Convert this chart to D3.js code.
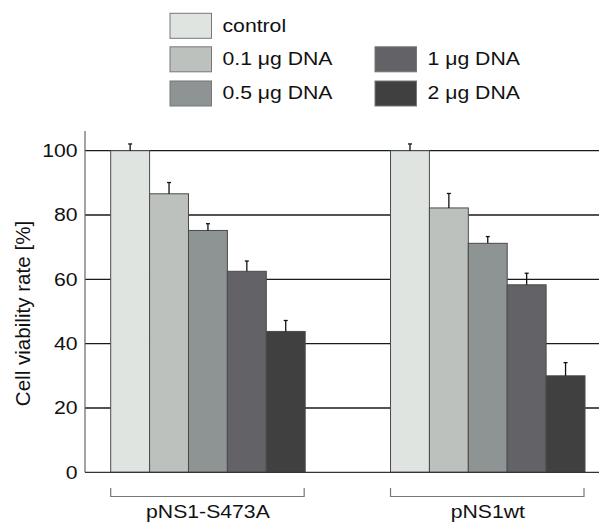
<!DOCTYPE html>
<html><head><meta charset="utf-8">
<script src="https://cdn.jsdelivr.net/npm/d3@7"></script>
<style>body{margin:0;background:#fff}svg{display:block;font-family:"Liberation Sans",Arial,sans-serif}</style>
</head><body>
<svg id="c" width="599" height="530"></svg>
<script>
const groups = ["pNS1-S473A", "pNS1wt"];
const series = ["control", "0.1 μg DNA", "0.5 μg DNA", "1 μg DNA", "2 μg DNA"];
const colors = ["#e0e4e1", "#bdc1be", "#8e9393", "#636267", "#404040"];
const valuesS473A = [100, 86.6, 75.2, 62.5, 43.8];
const errorsS473A = [2.1, 3.5, 2.1, 3.2, 3.4];
const valuesWt = [100, 82.2, 71.2, 58.3, 30.0];
const errorsWt = [2.1, 4.5, 2.1, 3.6, 4.1];
const yTicks = [0, 20, 40, 60, 80, 100];
const yLabel = "Cell viability rate [%]";

const values = [valuesS473A, valuesWt];
const errors = [errorsS473A, errorsWt];

const FS = 18.6, SX = 1.14;
const svg = d3.select("#c");
const axisX = 85, plotRight = 599;
const y = d3.scaleLinear().domain([0, 100]).range([472.3, 150.7]);
const x0 = d3.scaleBand().domain(groups).range([110.7, 585]).paddingInner(0.305).paddingOuter(0);
const x1 = d3.scaleBand().domain(series).range([0, x0.bandwidth()]).padding(0);
const color = d3.scaleOrdinal().domain(series).range(colors);

// gridlines
svg.append("g").selectAll("line").data(yTicks.filter(d => d > 0)).join("line")
  .attr("x1", axisX).attr("x2", plotRight)
  .attr("y1", d => y(d)).attr("y2", d => y(d))
  .attr("stroke", "#1a1a1a").attr("stroke-width", 1.3);

// y axis
const yAxis = d3.axisLeft(y).tickValues(yTicks).tickSize(0).tickPadding(6.5);
const ga = svg.append("g").attr("transform", `translate(${axisX},0)`).call(yAxis);
ga.select(".domain").remove();
ga.selectAll("text").attr("font-size", FS).attr("fill", "#111")
  .attr("font-family", "Liberation Sans, Arial, sans-serif")
  .attr("transform", `scale(${SX},1)`);
svg.append("line").attr("x1", axisX).attr("x2", axisX).attr("y1", y(0)).attr("y2", 131)
  .attr("stroke", "#666").attr("stroke-width", 1.2);

// bars
const rows = (g, gi) => series.map((s, i) => ({s, v: values[gi][i], e: errors[gi][i]}));
const gg = svg.append("g").selectAll("g").data(groups).join("g")
  .attr("transform", d => `translate(${x0(d)},0)`);
gg.selectAll("rect").data(rows).join("rect")
  .attr("x", d => x1(d.s)).attr("width", x1.bandwidth())
  .attr("y", d => y(d.v)).attr("height", d => y(0) - y(d.v))
  .attr("fill", d => color(d.s)).attr("stroke", "#4a4a4a").attr("stroke-width", 1);
// error bars
const eb = gg.selectAll("g.err").data(rows).join("g").attr("class", "err");
const cx = d => x1(d.s) + x1.bandwidth() / 2;
eb.append("line").attr("x1", cx).attr("x2", cx)
  .attr("y1", d => y(d.v)).attr("y2", d => y(d.v + d.e)).attr("stroke", "#111").attr("stroke-width", 1.3);
eb.append("line").attr("x1", d => cx(d) - 2).attr("x2", d => cx(d) + 2)
  .attr("y1", d => y(d.v + d.e)).attr("y2", d => y(d.v + d.e)).attr("stroke", "#111").attr("stroke-width", 1.3);

// x baseline
svg.append("line").attr("x1", axisX).attr("x2", plotRight).attr("y1", y(0)).attr("y2", y(0))
  .attr("stroke", "#333").attr("stroke-width", 1.3);

// brackets
const br = svg.append("g").selectAll("g").data(groups).join("g");
br.append("path")
  .attr("d", d => `M${x0(d)},488 V496.5 H${x0(d) + x0.bandwidth() - 1} V488`)
  .attr("fill", "none").attr("stroke", "#777").attr("stroke-width", 1.2);
br.append("text")
  .attr("transform", d => `translate(${x0(d) + x0.bandwidth() / 2},518) scale(${SX},1)`)
  .attr("text-anchor", "middle").attr("font-size", FS).attr("fill", "#111").text(d => d);

// y label
svg.append("text").attr("transform", `translate(29.5,${(y(0) + y(100)) / 2 + 2}) rotate(-90)`)
  .attr("text-anchor", "middle").attr("font-size", 20.6).attr("fill", "#111").text(yLabel);

// legend
const legPos = [[170, 13.3], [170, 46.8], [170, 81], [375, 46.8], [375, 81]];
const lg = svg.append("g").selectAll("g").data(series).join("g")
  .attr("transform", (d, i) => `translate(${legPos[i][0]},${legPos[i][1]})`);
lg.append("rect").attr("width", 41.5).attr("height", 25).attr("fill", d => color(d))
  .attr("stroke", "#777").attr("stroke-width", 1);
lg.append("text").attr("transform", `translate(52.5,18.4) scale(${SX},1)`)
  .attr("font-size", FS).attr("fill", "#111").text(d => d);
</script>
</body></html>
